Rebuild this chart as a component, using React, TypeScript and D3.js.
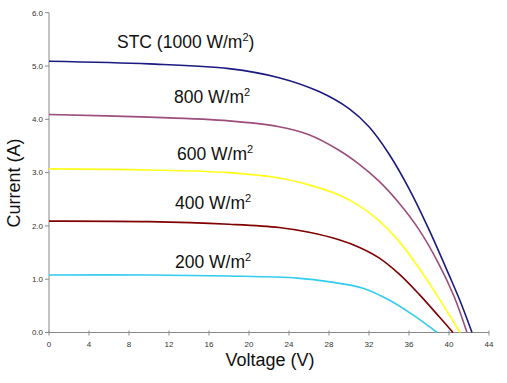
import React from "react";
import * as d3 from "d3";

const xTicks = [0, 4, 8, 12, 16, 20, 24, 28, 32, 36, 40, 44];
const yTicks = [0, 1, 2, 3, 4, 5, 6];

const stcV = [0, 10, 18, 23, 27, 30, 32, 34, 36, 38, 40, 41.2, 42.3];
const stcI = [5.09, 5.04, 4.95, 4.78, 4.52, 4.2, 3.86, 3.35, 2.7, 1.93, 1.08, 0.55, 0];

const w800V = [0, 10, 18, 23, 26, 29, 31, 33, 35, 37, 39, 40.5, 41.8];
const w800I = [4.09, 4.04, 3.97, 3.86, 3.71, 3.42, 3.16, 2.84, 2.43, 1.93, 1.28, 0.68, 0];

const w600V = [0, 10, 18, 23, 26, 29, 31, 33, 35, 37, 39, 41.1];
const w600I = [3.07, 3.05, 3.0, 2.9, 2.77, 2.58, 2.38, 2.1, 1.71, 1.21, 0.64, 0];

const w400V = [0, 10, 18, 23, 26, 29, 31, 33, 35, 37, 39, 40.4];
const w400I = [2.09, 2.08, 2.03, 1.97, 1.88, 1.74, 1.6, 1.4, 1.1, 0.72, 0.3, 0];

const w200V = [0, 10, 18, 24.8, 28.1, 31.4, 34.1, 36.4, 38.1, 38.8];
const w200I = [1.08, 1.08, 1.06, 1.02, 0.95, 0.83, 0.6, 0.33, 0.1, 0];

const seriesNames = ["STC (1000 W/m", "800 W/m", "600 W/m", "400 W/m", "200 W/m"];
const seriesSuffix = [")", "", "", "", ""];
const seriesColors = ["#1a1a80", "#9c4d7c", "#ffff1a", "#800000", "#33ccf0"];
const seriesV = [stcV, w800V, w600V, w400V, w200V];
const seriesI = [stcI, w800I, w600I, w400I, w200I];
const labelPos = [
  [117, 48],
  [174, 103],
  [177, 160],
  [175, 209],
  [175, 268],
];

export default function App() {
  const x = d3.scaleLinear().domain([0, 44]).range([49, 489]);
  const y = d3.scaleLinear().domain([0, 6]).range([332.5, 12.7]);
  const line = d3
    .line<[number, number]>()
    .x((d) => x(d[0]))
    .y((d) => y(d[1]))
    .curve(d3.curveCatmullRom.alpha(0.5));
  const axisColor = "#8a8a8a";
  const font = "'Liberation Sans', Arial, sans-serif";

  return (
    <svg
      width={507}
      height={383}
      style={{ position: "absolute", left: 0, top: 0, background: "#fff" }}
      fontFamily={font}
    >
      <rect x={0} y={0} width={507} height={383} fill="#fff" />
      <line x1={x(0)} x2={x(0)} y1={y(6)} y2={y(0)} stroke={axisColor} strokeWidth={1} />
      <line x1={x(0)} x2={x(44)} y1={y(0)} y2={y(0)} stroke={axisColor} strokeWidth={1} />
      {yTicks.map((t) => (
        <g key={"y" + t}>
          <line x1={x(0) - 4} x2={x(0)} y1={y(t)} y2={y(t)} stroke={axisColor} />
          <text x={43} y={y(t)} dy="0.35em" textAnchor="end" fontSize={8} fill="#333">
            {t.toFixed(1)}
          </text>
        </g>
      ))}
      {xTicks.map((t) => (
        <g key={"x" + t}>
          <line x1={x(t)} x2={x(t)} y1={y(0) - 2} y2={y(0) + 3} stroke={axisColor} />
          <text x={x(t)} y={347} textAnchor="middle" fontSize={8} fill="#333">
            {t}
          </text>
        </g>
      ))}
      {seriesV.map((vs, i) => (
        <path
          key={"s" + i}
          d={line(vs.map((v, j) => [v, seriesI[i][j]] as [number, number])) || ""}
          fill="none"
          stroke={seriesColors[i]}
          strokeWidth={1.6}
        />
      ))}
      {seriesNames.map((n, i) => (
        <text key={"l" + i} x={labelPos[i][0]} y={labelPos[i][1]} fontSize={17.5} fill="#111">
          {n}
          <tspan fontSize={11} dy={-7}>2</tspan>
          {seriesSuffix[i] ? <tspan dy={7}>{seriesSuffix[i]}</tspan> : null}
        </text>
      ))}
      <text
        transform={`translate(20,183) rotate(-90)`}
        textAnchor="middle"
        fontSize={18}
        fill="#111"
      >
        Current (A)
      </text>
      <text x={270} y={366} textAnchor="middle" fontSize={18} fill="#111">
        Voltage (V)
      </text>
    </svg>
  );
}
